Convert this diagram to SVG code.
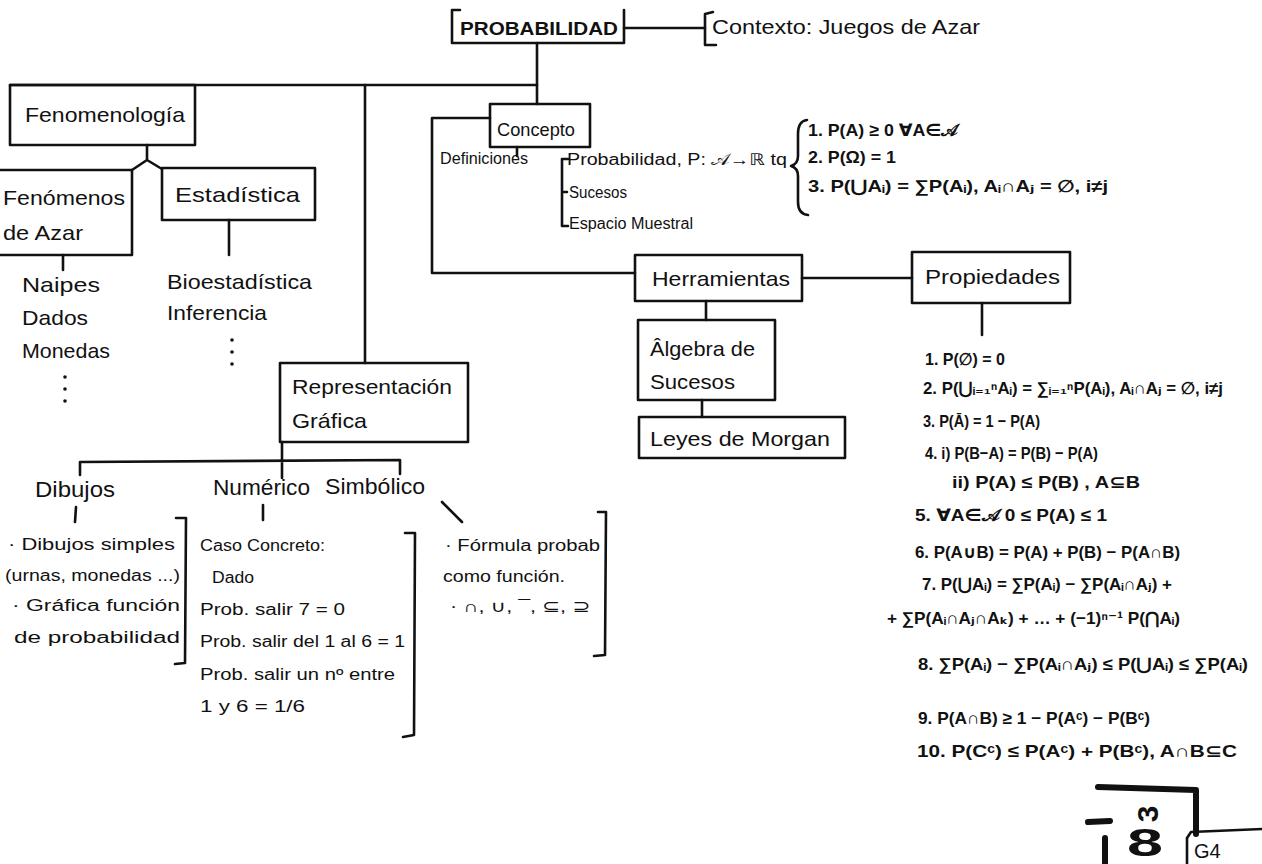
<svg xmlns="http://www.w3.org/2000/svg" width="1262" height="864" viewBox="0 0 1262 864">
<style>
.bx{fill:none;stroke:#111;stroke-width:2.6;stroke-linejoin:round;stroke-linecap:round}
.ln{fill:none;stroke:#111;stroke-width:2.6;stroke-linecap:round;stroke-linejoin:round}
.thick{fill:none;stroke:#111;stroke-width:6;stroke-linecap:round;stroke-linejoin:round}
text{font-family:"Liberation Sans","DejaVu Sans",sans-serif;fill:#111}
.h{font-size:21px}
.m{font-size:16px}
.s{font-size:16px}
.p{font-size:17px;font-weight:bold;font-family:"Liberation Sans","DejaVu Sans",sans-serif}
.dot{fill:#111}
</style>
<rect width="1262" height="864" fill="#fff"/>

<g id="connectors" class="ln">
  <path d="M624,28 L705,28"/>
  <path d="M537,43 L537,104"/>
  <path d="M10,85 L537,85"/>
  <path d="M365,85 L365,363"/>
  <path d="M490,118 L432,118 L432,273 L635,273"/>
  <path d="M147,145 L147,160 L132,170 M147,160 L162,169"/>
  <path d="M63,255 L63,270"/>
  <path d="M229,220 L229,255"/>
  <path d="M517,147 L517,156"/>
  <path d="M802,278 L912,278"/>
  <path d="M706,301 L706,320"/>
  <path d="M702,400 L702,417"/>
  <path d="M982,303 L982,335"/>
  <path d="M282,442 L282,478 M80,475 L80,462 L400,460 L400,474"/>
  <path d="M76,507 L75,522"/>
  <path d="M263,505 L263,520"/>
  <path d="M442,502 L462,522"/>
</g>

<g id="probabilidad">
  <path class="bx" d="M460,10 L452,10 L452,43 L624,43 L624,10"/>
  <text x="460" y="35" font-size="19" font-weight="bold" textLength="158" lengthAdjust="spacingAndGlyphs">PROBABILIDAD</text>
</g>
<g id="contexto">
  <path class="bx" d="M713,12 L705,14 L705,45 L716,45"/>
  <text class="h" x="712" y="34" textLength="268" lengthAdjust="spacingAndGlyphs">Contexto: Juegos de Azar</text>
</g>

<g id="fenomenologia">
  <rect class="bx" x="10" y="85" width="185" height="60"/>
  <text class="h" x="25" y="122" textLength="160" lengthAdjust="spacingAndGlyphs">Fenomenología</text>
</g>
<g id="fenomenos">
  <path class="bx" d="M-5,170 L132,170 L132,255 L-5,255"/>
  <text class="h" x="3" y="205" textLength="122" lengthAdjust="spacingAndGlyphs">Fenómenos</text>
  <text class="h" x="3" y="240" textLength="80" lengthAdjust="spacingAndGlyphs">de Azar</text>
  <text class="h" x="22" y="292" textLength="78" lengthAdjust="spacingAndGlyphs">Naipes</text>
  <text class="h" x="22" y="325" textLength="66" lengthAdjust="spacingAndGlyphs">Dados</text>
  <text class="h" x="22" y="358" textLength="88" lengthAdjust="spacingAndGlyphs">Monedas</text>
  <circle class="dot" cx="65" cy="377" r="1.8"/>
  <circle class="dot" cx="65" cy="389" r="1.8"/>
  <circle class="dot" cx="65" cy="401" r="1.8"/>
</g>
<g id="estadistica">
  <rect class="bx" x="162" y="168" width="153" height="52"/>
  <text class="h" x="175" y="202" textLength="125" lengthAdjust="spacingAndGlyphs">Estadística</text>
  <text class="h" x="167" y="289" textLength="145" lengthAdjust="spacingAndGlyphs">Bioestadística</text>
  <text class="h" x="167" y="320" textLength="100" lengthAdjust="spacingAndGlyphs">Inferencia</text>
  <circle class="dot" cx="232" cy="340" r="1.8"/>
  <circle class="dot" cx="232" cy="352" r="1.8"/>
  <circle class="dot" cx="232" cy="364" r="1.8"/>
</g>

<g id="concepto">
  <rect class="bx" x="490" y="104" width="100" height="43"/>
  <text x="497" y="136" font-size="19" textLength="78" lengthAdjust="spacingAndGlyphs">Concepto</text>
  <text class="m" x="440" y="164" textLength="88" lengthAdjust="spacingAndGlyphs">Definiciones</text>
  <path class="ln" d="M568,159 L562,159 L562,226 L568,226 M562,192 L567,192"/>
  <text class="s" x="567" y="165" textLength="220" lengthAdjust="spacingAndGlyphs">Probabilidad, P: 𝒜→ℝ  tq</text>
  <text class="s" x="569" y="198" textLength="58" lengthAdjust="spacingAndGlyphs">Sucesos</text>
  <text class="s" x="569" y="229" textLength="124" lengthAdjust="spacingAndGlyphs">Espacio Muestral</text>
  <path class="ln" d="M807,120 Q798,121 798,134 L798,156 Q798,164 791,166 Q798,168 798,176 L798,202 Q798,214 808,215"/>
  <text class="p" x="808" y="136" textLength="150" lengthAdjust="spacingAndGlyphs">1. P(A) ≥ 0   ∀A∈𝒜</text>
  <text class="p" x="808" y="163" textLength="88" lengthAdjust="spacingAndGlyphs">2. P(Ω) = 1</text>
  <text class="p" x="808" y="192" textLength="300" lengthAdjust="spacingAndGlyphs">3. P(⋃Aᵢ) = ∑P(Aᵢ), Aᵢ∩Aⱼ = ∅, i≠j</text>
</g>

<g id="herramientas">
  <rect class="bx" x="635" y="255" width="167" height="46"/>
  <text class="h" x="652" y="286" textLength="138" lengthAdjust="spacingAndGlyphs">Herramientas</text>
</g>
<g id="algebra">
  <rect class="bx" x="638" y="320" width="137" height="80"/>
  <text class="h" x="650" y="356" textLength="105" lengthAdjust="spacingAndGlyphs">Âlgebra de</text>
  <text class="h" x="650" y="389" textLength="85" lengthAdjust="spacingAndGlyphs">Sucesos</text>
</g>
<g id="leyes">
  <rect class="bx" x="639" y="417" width="206" height="41"/>
  <text class="h" x="650" y="446" textLength="180" lengthAdjust="spacingAndGlyphs">Leyes de Morgan</text>
</g>

<g id="propiedades">
  <rect class="bx" x="912" y="252" width="158" height="51"/>
  <text class="h" x="925" y="284" textLength="135" lengthAdjust="spacingAndGlyphs">Propiedades</text>
  <text class="p" x="925" y="365" textLength="80" lengthAdjust="spacingAndGlyphs">1. P(∅) = 0</text>
  <text class="p" x="923" y="394" textLength="300" lengthAdjust="spacingAndGlyphs">2. P(⋃ᵢ₌₁ⁿAᵢ) = ∑ᵢ₌₁ⁿP(Aᵢ), Aᵢ∩Aⱼ = ∅, i≠j</text>
  <text class="p" x="923" y="427" textLength="117" lengthAdjust="spacingAndGlyphs">3. P(Ā) = 1 − P(A)</text>
  <text class="p" x="925" y="459" textLength="173" lengthAdjust="spacingAndGlyphs">4. i) P(B−A) = P(B) − P(A)</text>
  <text class="p" x="952" y="488" textLength="188" lengthAdjust="spacingAndGlyphs">ii) P(A) ≤ P(B) , A⊆B</text>
  <text class="p" x="915" y="521" textLength="192" lengthAdjust="spacingAndGlyphs">5. ∀A∈𝒜   0 ≤ P(A) ≤ 1</text>
  <text class="p" x="915" y="558" textLength="265" lengthAdjust="spacingAndGlyphs">6. P(A∪B) = P(A) + P(B) − P(A∩B)</text>
  <text class="p" x="922" y="590" textLength="250" lengthAdjust="spacingAndGlyphs">7. P(⋃Aᵢ) = ∑P(Aᵢ) − ∑P(Aᵢ∩Aⱼ) +</text>
  <text class="p" x="887" y="624" textLength="293" lengthAdjust="spacingAndGlyphs">+ ∑P(Aᵢ∩Aⱼ∩Aₖ) + … + (−1)ⁿ⁻¹ P(⋂Aᵢ)</text>
  <text class="p" x="918" y="670" textLength="330" lengthAdjust="spacingAndGlyphs">8. ∑P(Aᵢ) − ∑P(Aᵢ∩Aⱼ) ≤ P(⋃Aᵢ) ≤ ∑P(Aᵢ)</text>
  <text class="p" x="918" y="724" textLength="232" lengthAdjust="spacingAndGlyphs">9. P(A∩B) ≥ 1 − P(Aᶜ) − P(Bᶜ)</text>
  <text class="p" x="917" y="757" textLength="320" lengthAdjust="spacingAndGlyphs">10. P(Cᶜ) ≤ P(Aᶜ) + P(Bᶜ), A∩B⊆C</text>
</g>

<g id="representacion">
  <rect class="bx" x="280" y="363" width="188" height="79"/>
  <text class="h" x="292" y="394" textLength="160" lengthAdjust="spacingAndGlyphs">Representación</text>
  <text class="h" x="292" y="428" textLength="75" lengthAdjust="spacingAndGlyphs">Gráfica</text>
</g>

<g id="dibujos">
  <text x="35" y="497" font-size="22" textLength="80" lengthAdjust="spacingAndGlyphs">Dibujos</text>
  <text class="s" x="8" y="550" textLength="167" lengthAdjust="spacingAndGlyphs">· Dibujos simples</text>
  <text class="s" x="5" y="581" textLength="175" lengthAdjust="spacingAndGlyphs">(urnas, monedas ...)</text>
  <text class="s" x="12" y="611" textLength="168" lengthAdjust="spacingAndGlyphs">· Gráfica función</text>
  <text class="s" x="14" y="643" textLength="166" lengthAdjust="spacingAndGlyphs">de probabilidad</text>
  <path class="ln" d="M176,518 L186,518 L185,663 L175,664"/>
</g>
<g id="numerico">
  <text x="213" y="495" font-size="22" textLength="97" lengthAdjust="spacingAndGlyphs">Numérico</text>
  <text class="s" x="200" y="551" textLength="125" lengthAdjust="spacingAndGlyphs">Caso Concreto:</text>
  <text class="s" x="212" y="583" textLength="42" lengthAdjust="spacingAndGlyphs">Dado</text>
  <text class="s" x="200" y="615" textLength="145" lengthAdjust="spacingAndGlyphs">Prob. salir 7 = 0</text>
  <text class="s" x="200" y="647" textLength="205" lengthAdjust="spacingAndGlyphs">Prob. salir del 1 al 6 = 1</text>
  <text class="s" x="200" y="680" textLength="195" lengthAdjust="spacingAndGlyphs">Prob. salir un nº entre</text>
  <text class="s" x="200" y="712" textLength="105" lengthAdjust="spacingAndGlyphs">1 y 6 = 1/6</text>
  <path class="ln" d="M405,533 L415,533 L414,735 L403,737"/>
</g>
<g id="simbolico">
  <text x="325" y="494" font-size="22" textLength="100" lengthAdjust="spacingAndGlyphs">Simbólico</text>
  <text class="s" x="445" y="551" textLength="155" lengthAdjust="spacingAndGlyphs">· Fórmula probab</text>
  <text class="s" x="443" y="582" textLength="122" lengthAdjust="spacingAndGlyphs">como función.</text>
  <text class="s" x="450" y="612" textLength="140" lengthAdjust="spacingAndGlyphs">· ∩, ∪, ¯, ⊆, ⊇</text>
  <path class="ln" d="M598,512 L606,512 L605,655 L594,656"/>
</g>

<g id="mark">
  <path class="thick" d="M1098,787 L1196,790 L1196,834"/>
  <path class="thick" d="M1088,822 L1110,821"/>
  <path class="thick" d="M1105,838 L1105,864"/>
  <text x="1127" y="856" font-size="38" font-weight="bold" textLength="36" lengthAdjust="spacingAndGlyphs">8</text>
  <text x="1147" y="814" font-size="30" font-weight="bold" text-anchor="middle" dominant-baseline="central" transform="rotate(-90 1147 814)">3</text>
  <path class="ln" d="M1187,864 L1187,838 L1191,832 L1262,829"/>
  <text x="1194" y="858" font-size="20" fill="#333">G4</text>
</g>
</svg>
